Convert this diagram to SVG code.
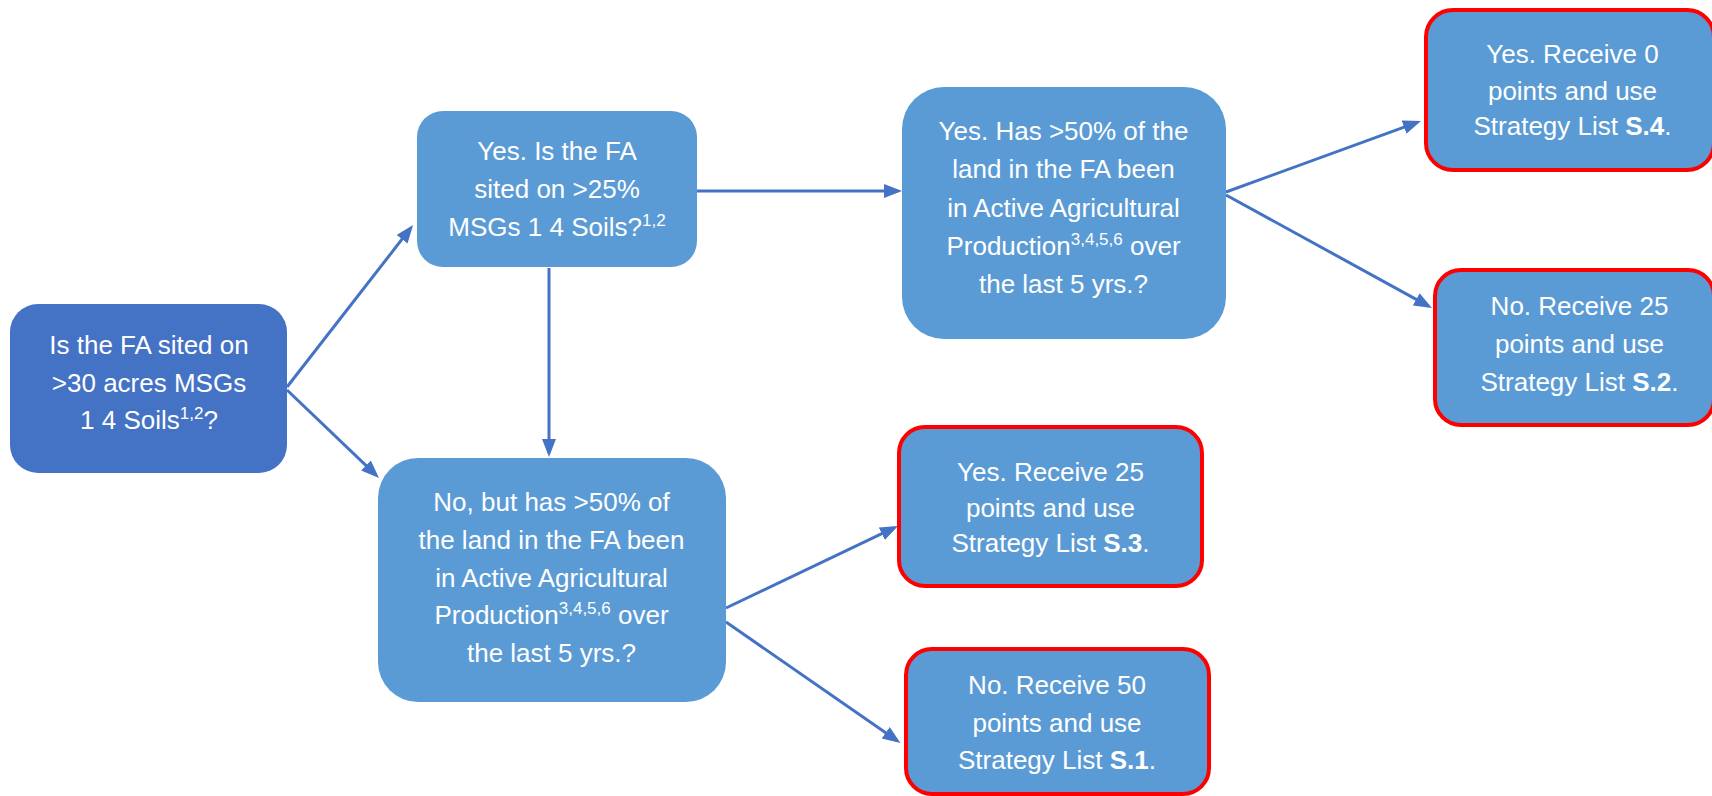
<svg xmlns="http://www.w3.org/2000/svg" width="1712" height="796" viewBox="0 0 1712 796">
<style>
.q{fill:#5B9BD5}
.start{fill:#4472C4}
.res{fill:#5B9BD5;stroke:#FF0000;stroke-width:4}
.t{font-family:"Liberation Sans",Arial,sans-serif;font-size:26px;fill:#FFFFFF;text-anchor:middle}
.sup{font-size:17px}
.b{font-weight:bold}
.c line{stroke:#4472C4;stroke-width:3;fill:none;marker-end:url(#ah)}
</style>
<defs>
<marker id="ah" markerUnits="userSpaceOnUse" markerWidth="19" markerHeight="15" refX="14" refY="7" orient="auto">
<path d="M0,0 L18,7 L0,14 z" fill="#4472C4"/>
</marker>
</defs>
<rect width="1712" height="796" fill="#FFFFFF"/>
<g class="c" id="connectors">
<line x1="287" y1="387" x2="410.6" y2="228.2"/>
<line x1="287" y1="390" x2="376.1" y2="475.2"/>
<line x1="549" y1="268" x2="549" y2="453"/>
<line x1="697" y1="191" x2="898" y2="191"/>
<line x1="1226" y1="192" x2="1417.2" y2="122.4"/>
<line x1="1226" y1="195" x2="1428.5" y2="306.1"/>
<line x1="726" y1="608" x2="894.4" y2="527.7"/>
<line x1="726" y1="622" x2="897.2" y2="740.7"/>
</g>
<g id="nodeA">
<rect class="start" x="10" y="304" width="277" height="169" rx="28"/>
<text class="t" x="149" y="354">Is the FA sited on</text>
<text class="t" x="149" y="391.5">&gt;30 acres MSGs</text>
<text class="t" x="149" y="429">1 4 Soils<tspan class="sup" dy="-10">1,2</tspan><tspan dy="10">?</tspan></text>
</g>
<g id="nodeB">
<rect class="q" x="417" y="111" width="280" height="156" rx="26"/>
<text class="t" x="557" y="160">Yes. Is the FA</text>
<text class="t" x="557" y="198">sited on &gt;25%</text>
<text class="t" x="557" y="236">MSGs 1 4 Soils?<tspan class="sup" dy="-10">1,2</tspan></text>
</g>
<g id="nodeC">
<rect class="q" x="378" y="458" width="348" height="244" rx="40"/>
<text class="t" x="551.5" y="511">No, but has &gt;50% of</text>
<text class="t" x="551.5" y="549">the land in the FA been</text>
<text class="t" x="551.5" y="587">in Active Agricultural</text>
<text class="t" x="551.5" y="624">Production<tspan class="sup" dy="-10">3,4,5,6</tspan><tspan dy="10"> over</tspan></text>
<text class="t" x="551.5" y="662">the last 5 yrs.?</text>
</g>
<g id="nodeF">
<rect class="q" x="902" y="87" width="324" height="252" rx="42"/>
<text class="t" x="1063.5" y="140">Yes. Has &gt;50% of the</text>
<text class="t" x="1063.5" y="178">land in the FA been</text>
<text class="t" x="1063.5" y="216.5">in Active Agricultural</text>
<text class="t" x="1063.5" y="255">Production<tspan class="sup" dy="-10">3,4,5,6</tspan><tspan dy="10"> over</tspan></text>
<text class="t" x="1063.5" y="293">the last 5 yrs.?</text>
</g>
<g id="nodeD">
<rect class="res" x="899" y="427" width="303" height="159" rx="26"/>
<text class="t" x="1050.5" y="481">Yes. Receive 25</text>
<text class="t" x="1050.5" y="516.5">points and use</text>
<text class="t" x="1050.5" y="552">Strategy List <tspan class="b">S.3</tspan>.</text>
</g>
<g id="nodeE">
<rect class="res" x="906" y="649" width="303" height="145" rx="26"/>
<text class="t" x="1057" y="694">No. Receive 50</text>
<text class="t" x="1057" y="731.5">points and use</text>
<text class="t" x="1057" y="769">Strategy List <tspan class="b">S.1</tspan>.</text>
</g>
<g id="nodeG">
<rect class="res" x="1426" y="10" width="288" height="160" rx="27"/>
<text class="t" x="1572.5" y="63">Yes. Receive 0</text>
<text class="t" x="1572.5" y="99.5">points and use</text>
<text class="t" x="1572.5" y="135">Strategy List <tspan class="b">S.4</tspan>.</text>
</g>
<g id="nodeH">
<rect class="res" x="1435" y="270" width="279" height="155" rx="26"/>
<text class="t" x="1579.5" y="315">No. Receive 25</text>
<text class="t" x="1579.5" y="353">points and use</text>
<text class="t" x="1579.5" y="391">Strategy List <tspan class="b">S.2</tspan>.</text>
</g>
</svg>
